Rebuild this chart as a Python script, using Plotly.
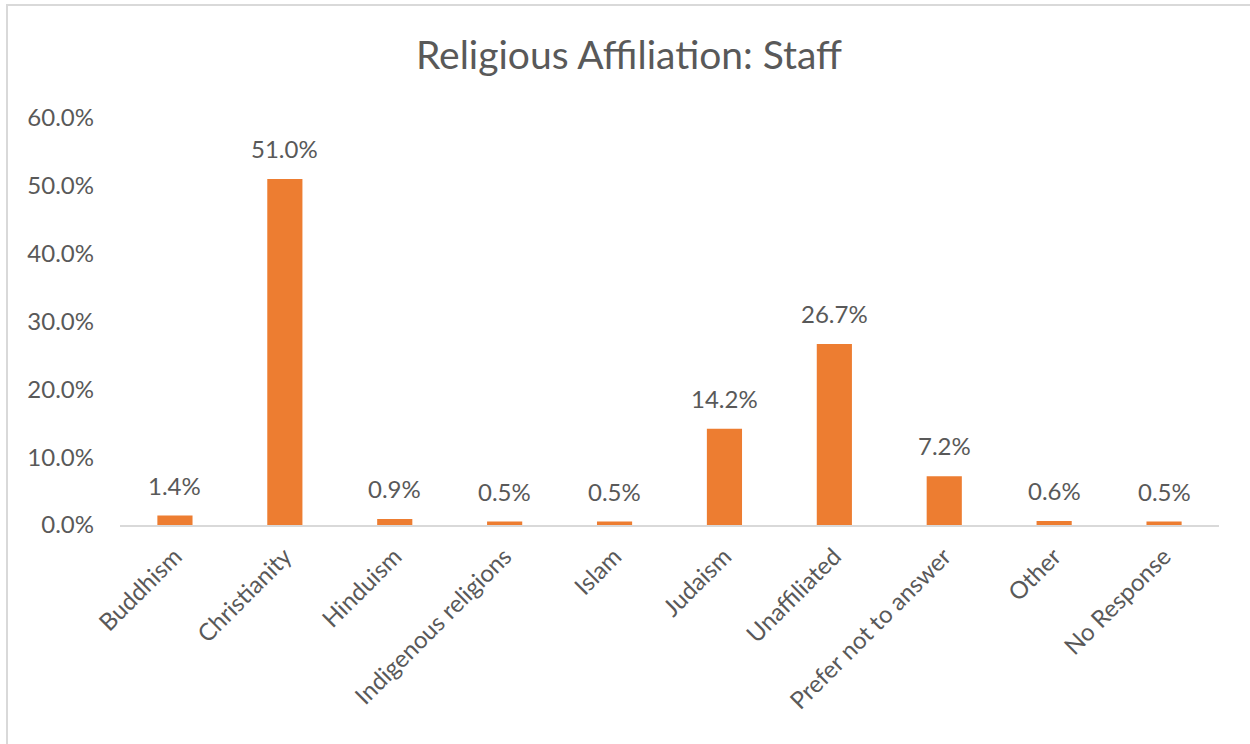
import plotly.graph_objects as go

categories = ["Buddhism", "Christianity", "Hinduism", "Indigenous religions", "Islam",
              "Judaism", "Unaffiliated", "Prefer not to answer", "Other", "No Response"]
percent_values = [1.4, 51.0, 0.9, 0.5, 0.5, 14.2, 26.7, 7.2, 0.6, 0.5]
y_tick_values = [0, 10, 20, 30, 40, 50, 60]
y_tick_labels = ["0.0%", "10.0%", "20.0%", "30.0%", "40.0%", "50.0%", "60.0%"]

FONT = "Lato"
TEXT_COLOR = "#595959"
BAR_COLOR = "#ED7D31"
LABEL_SIZE = 24

fig = go.Figure(
    go.Bar(
        x=categories,
        y=percent_values,
        marker=dict(color=BAR_COLOR, line=dict(width=0)),
        width=0.32,
        hoverinfo="skip",
    )
)

# value labels above each bar
for cat, val in zip(categories, percent_values):
    fig.add_annotation(
        x=cat, y=val, text=f"{val:.1f}%", showarrow=False,
        yanchor="bottom", yshift=14,
        font=dict(family=FONT, size=LABEL_SIZE, color=TEXT_COLOR),
    )

L, R, T, B = 120, 31, 118, 219
W, H = 1250, 744
pw, ph = W - L - R, H - T - B

# chart frame
fig.add_shape(
    type="rect", xref="paper", yref="paper",
    x0=(7 - L) / pw, x1=(W + 10 - L) / pw,
    y0=-(H + 10 - (H - B)) / ph, y1=((H - B) - 5) / ph,
    line=dict(color="#D9D9D9", width=2), fillcolor="rgba(0,0,0,0)", layer="below",
)

fig.update_layout(
    width=W, height=H,
    margin=dict(l=L, r=R, t=T, b=B, pad=0),
    paper_bgcolor="white", plot_bgcolor="white",
    title=dict(
        text="Religious Affiliation: Staff",
        x=629 / W, xanchor="center", y=1 - 55 / H, yanchor="middle",
        font=dict(family=FONT, size=39, color=TEXT_COLOR),
    ),
    showlegend=False,
    bargap=0.68,
    xaxis=dict(
        tickangle=-45,
        tickfont=dict(family=FONT, size=LABEL_SIZE, color=TEXT_COLOR),
        showline=True, linecolor="#D9D9D9", linewidth=2,
        showgrid=False, ticks="", zeroline=False,
        ticklabelstandoff=6,
    ),
    yaxis=dict(
        range=[0, 60], autorange=False,
        tickvals=y_tick_values, ticktext=y_tick_labels,
        tickfont=dict(family=FONT, size=LABEL_SIZE, color=TEXT_COLOR),
        showgrid=False, zeroline=False, showline=False, ticks="",
        ticklabelstandoff=25,
    ),
)

fig.write_html("out.html")
